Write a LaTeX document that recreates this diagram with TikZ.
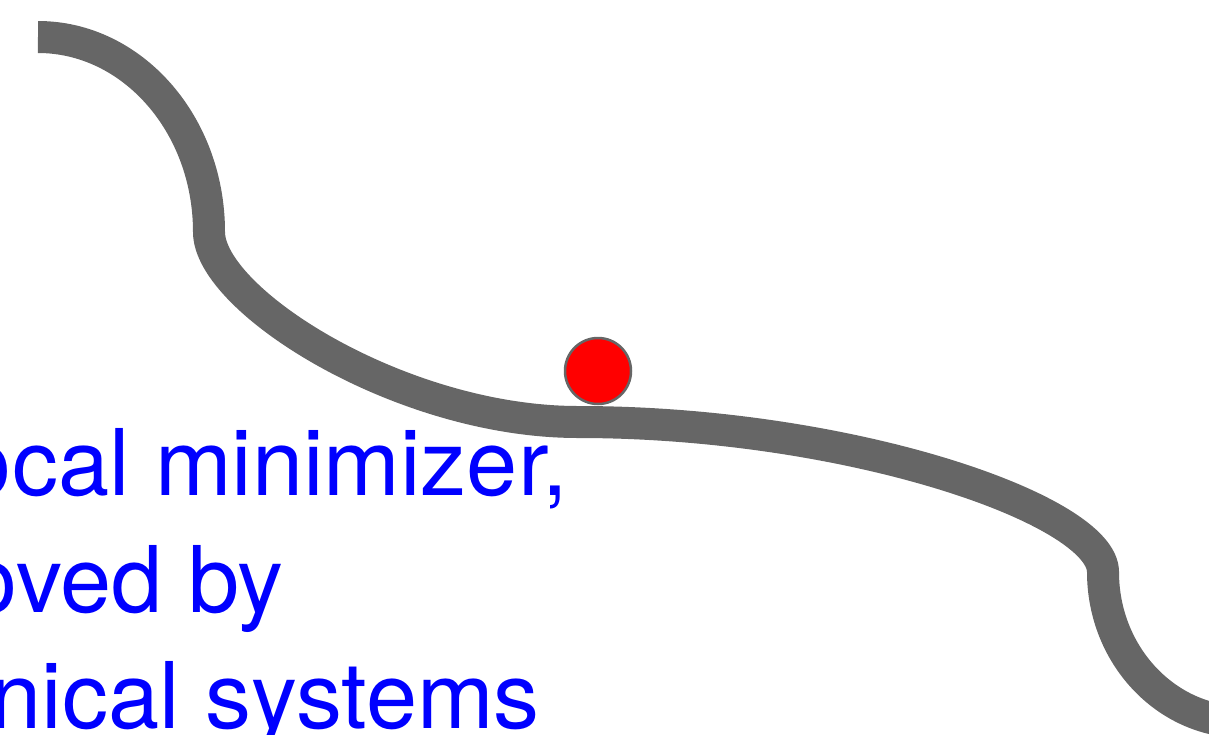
\documentclass[tikz,border=0pt]{standalone}
\usepackage{fontspec}
\setmainfont{TeX Gyre Heros}
\definecolor{track}{HTML}{666666}
\definecolor{txtblue}{HTML}{0000FF}
\tikzset{
  trackline/.style={draw=track, line width=32pt, line cap=butt, line join=round},
  ballstyle/.style={circle, fill=red, draw=track, line width=2.5pt, minimum size=66pt, inner sep=0pt},
  label/.style={text=txtblue, font=\fontsize{92}{116}\selectfont, inner sep=0pt},
}
\begin{document}
\begin{tikzpicture}[x=1pt, y=-1pt]
  \useasboundingbox (0,0) rectangle (1209,734);
  \clip (0,0) rectangle (1209,734);
  % the landscape
  \coordinate (p0) at (38,37);
  \coordinate (p1) at (209,232);
  \coordinate (p2) at (578,422);
  \coordinate (p3) at (1103,572);
  \coordinate (p4) at (1243,722);
  \draw[trackline] (p0) .. controls (132,37) and (209,124) .. (p1)
                        .. controls (209,300) and (400,422) .. (p2)
                        .. controls (850,422) and (1103,510) .. (p3)
                        .. controls (1103,655) and (1166,722) .. (p4)
                        -- ++(40,0);
  % the ball resting on the flat part
  \node[ballstyle] (ball) at (598,371) {};
  % caption lines
  \node[label, anchor=base east] (l1) at (568,495) {ocal minimizer,};
  \node[label, anchor=base east] (l2) at (284,612) {oved by};
  \node[label, anchor=base east] (l3) at (540,728) {nical systems};
\end{tikzpicture}
\end{document}
